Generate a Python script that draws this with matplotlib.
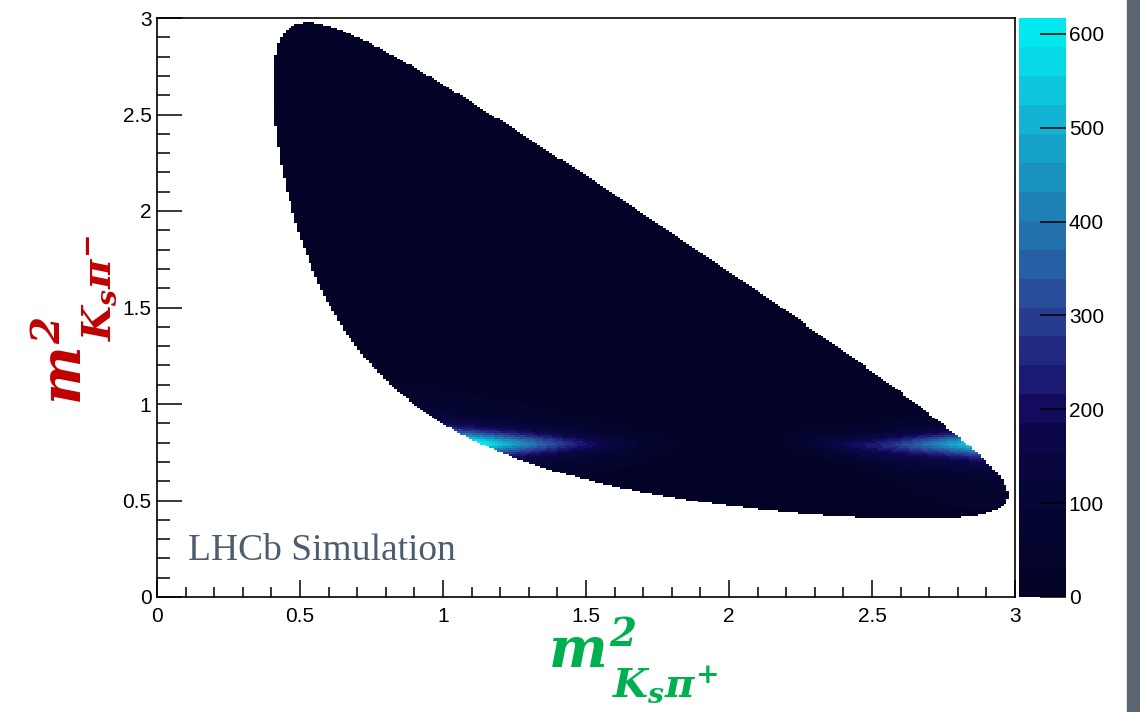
import numpy as np
import matplotlib
matplotlib.use("Agg")
import matplotlib.pyplot as plt
from matplotlib.colors import LinearSegmentedColormap, ListedColormap, Normalize
from matplotlib.patches import Rectangle

plt.rcParams['font.family'] = ['Liberation Sans', 'DejaVu Sans']
plt.rcParams['mathtext.fontset'] = 'custom'
plt.rcParams['mathtext.it'] = 'DejaVu Serif:italic:bold'
plt.rcParams['mathtext.rm'] = 'DejaVu Serif:italic:bold'
plt.rcParams['mathtext.bf'] = 'DejaVu Serif:italic:bold'

# D0 -> Ks pi+ pi- kinematics (GeV)
m_D = 1.86484
m_Ks = 0.497611
m_pi = 0.13957

# isobar model used for the simulated sample
res_names = ["K*(892)-", "K*(892)+", "rho(770)", "f0(980)", "K*0(1430)-"]
res_channel = ["Kpim", "Kpip", "pipi", "pipi", "Kpim"]
res_mass = [0.8917, 0.8917, 0.7755, 0.977, 1.425]
res_width = [0.065, 0.065, 0.1494, 0.050, 0.270]
res_spin = [1, 1, 1, 0, 0]
res_mag = [1.0, 0.06, 0.22, 0.15, 0.6]
res_phase = [0, 180, 0, 200, 50]
nonres_mag = 2.6
nonres_phase = 160

peak_count = 615
z_max = 617
n_bins = 300
axis_ticks = [0, 0.5, 1, 1.5, 2, 2.5, 3]
axis_labels = ["0", "0.5", "1", "1.5", "2", "2.5", "3"]
cbar_ticks = [0, 100, 200, 300, 400, 500, 600]


def breit_wigner(s, m0, g0):
    return 1.0 / (m0**2 - s - 1j*m0*g0)


def amplitude(sp, sm):
    '''Sum of isobar amplitudes at (m2(Ks pi+), m2(Ks pi-))'''
    s0 = m_D**2 + m_Ks**2 + 2*m_pi**2 - sp - sm
    k = (m_D**2 - m_pi**2)*(m_Ks**2 - m_pi**2)
    pair = {"Kpim": (sm, s0 - sp + k/sm),
            "Kpip": (sp, s0 - sm + k/sp),
            "pipi": (s0, sm - sp)}
    amp = nonres_mag*np.exp(1j*np.radians(nonres_phase))*np.ones_like(sp, dtype=complex)
    for i in range(len(res_names)):
        s, z = pair[res_channel[i]]
        ang = z if res_spin[i] == 1 else 1.0
        c = res_mag[i]*np.exp(1j*np.radians(res_phase[i]))
        amp = amp + c*ang*breit_wigner(s, res_mass[i], res_width[i])
    return amp


def inside(sp, sm):
    '''True where (sp, sm) lies in the Dalitz region'''
    e2 = (sm - m_Ks**2 + m_pi**2)/(2*np.sqrt(sm))
    e3 = (m_D**2 - sm - m_pi**2)/(2*np.sqrt(sm))
    p2 = np.sqrt(np.clip(e2**2 - m_pi**2, 0, None))
    p3 = np.sqrt(np.clip(e3**2 - m_pi**2, 0, None))
    s0_lo = (e2 + e3)**2 - (p2 + p3)**2
    s0_hi = (e2 + e3)**2 - (p2 - p3)**2
    s0 = m_D**2 + m_Ks**2 + 2*m_pi**2 - sp - sm
    ok = (e2 > m_pi) & (e3 > m_pi)
    return ok & (s0 >= s0_lo) & (s0 <= s0_hi)


edges = np.linspace(0, 3, n_bins + 1)
centres = 0.5*(edges[1:] + edges[:-1])
SP, SM = np.meshgrid(centres, centres)
mask = inside(SP, SM)
SPs = np.where(mask, SP, 1.0)
SMs = np.where(mask, SM, 1.0)
intensity = np.abs(amplitude(SPs, SMs))**2
intensity = np.where(mask, intensity, 0)
counts = peak_count*intensity/intensity.max()
counts = np.ma.masked_where(~mask, counts)

# palette: dark navy to cyan, 20 contour levels
base = LinearSegmentedColormap.from_list("navycyan", [
    (0.00, "#020226"), (0.15, "#060634"), (0.30, "#0d074c"),
    (0.34, "#160d66"), (0.40, "#1f2078"), (0.45, "#253488"),
    (0.50, "#2a4494"), (0.55, "#2855a0"), (0.60, "#2468a8"),
    (0.65, "#2079b2"), (0.70, "#1c8abb"), (0.75, "#1899c4"),
    (0.80, "#14a9cc"), (0.85, "#10bcd8"), (0.90, "#0acfe2"),
    (0.95, "#04e2ec"), (1.00, "#00eef2")])
cmap = ListedColormap(base(np.linspace(0.025, 0.975, 20)))
cmap.set_bad("white")

W, H = 1140, 712
fig = plt.figure(figsize=(W/100, H/100), dpi=100)
ax = fig.add_axes([157/W, (H - 597)/H, 858/W, 579/H])
cax = fig.add_axes([1019/W, (H - 597)/H, 47/W, 579/H])

mesh = ax.pcolormesh(edges, edges, counts, cmap=cmap,
                     norm=Normalize(0, z_max), rasterized=True)
ax.set_xlim(0, 3)
ax.set_ylim(0, 3)
ax.set_xticks(axis_ticks)
ax.set_xticklabels(axis_labels)
ax.set_yticks(axis_ticks)
ax.set_yticklabels(axis_labels)
ax.set_xticks(np.arange(0, 3.01, 0.1), minor=True)
ax.set_yticks(np.arange(0, 3.01, 0.1), minor=True)
ax.tick_params(axis='y', which='major', direction='in', length=18, width=1.1,
               labelsize=15, pad=4)
ax.tick_params(axis='y', which='minor', direction='in', length=9.4, width=1.1)
ax.tick_params(axis='x', which='major', direction='in', length=12.2, width=1.1,
               labelsize=15, pad=7)
ax.tick_params(axis='x', which='minor', direction='in', length=7.2, width=1.1)
for sp in ax.spines.values():
    sp.set_linewidth(1.2)

ax.text(0.11, 0.19, "LHCb Simulation", fontsize=27, color="#4d5d6d",
        family="Liberation Serif", va="baseline")

cb = fig.colorbar(mesh, cax=cax)
cb.set_ticks(cbar_ticks)
cb.set_ticklabels([str(t) for t in cbar_ticks])
cb.outline.set_linewidth(0)
cax.tick_params(direction='in', length=18.7, width=1.1, labelsize=15, pad=2)


def px(x, y):
    return x/W, (H - y)/H


# axis titles: main symbol and its subscript placed separately
def axis_title(x0, y0, sign, color, vertical):
    rot = 90 if vertical else 0
    kw = dict(color=color, ha="left", va="baseline", rotation=rot,
              rotation_mode="anchor")
    fig.text(*px(x0, y0), r"$m^{2}$", fontsize=40, **kw)
    if vertical:
        sub = px(x0 + 29, y0 - 64)
    else:
        sub = px(x0 + 64, y0 + 29)
    fig.text(*sub, r"$K_{s}\pi^{%s}$" % sign, fontsize=29, **kw)


axis_title(548, 668, "+", "#00b050", False)
axis_title(82, 405, "-", "#c00000", True)

fig.add_artist(Rectangle((1127/W, 0), 13/W, 1, transform=fig.transFigure,
                         color="#5b6670"))

fig.savefig("out.png", dpi=100)
